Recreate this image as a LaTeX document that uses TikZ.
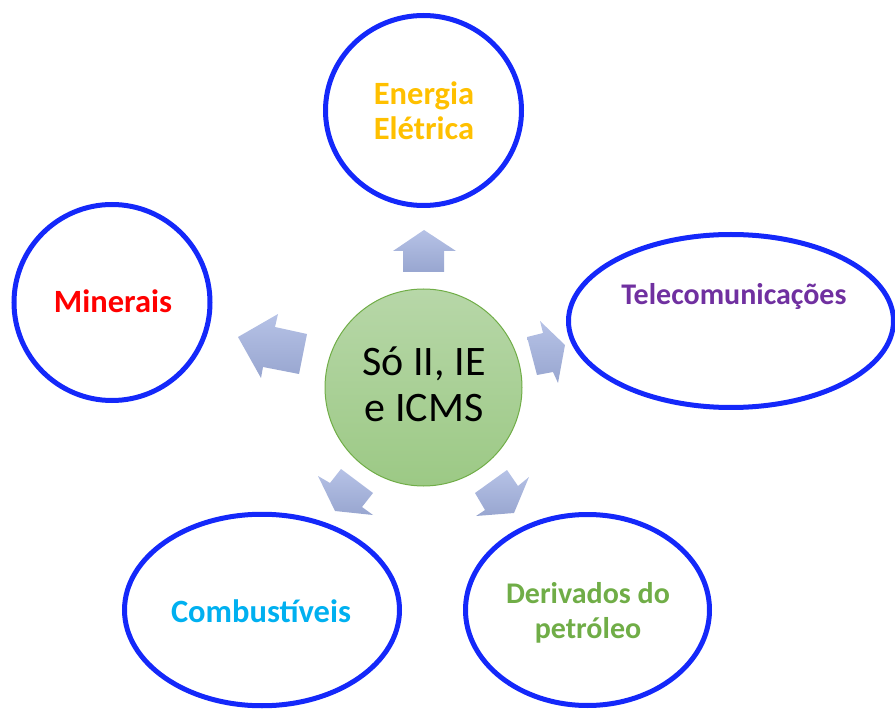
\documentclass[tikz,border=0pt]{standalone}
\usepackage{fontspec}
\setmainfont{Carlito}
\usetikzlibrary{shapes.geometric}
\definecolor{ringblue}{RGB}{20,40,250}
\definecolor{ctop}{RGB}{183,215,168}
\definecolor{cbot}{RGB}{156,201,133}
\definecolor{cgreen}{RGB}{112,173,71}
\definecolor{arrtop}{RGB}{182,194,230}
\definecolor{arrbot}{RGB}{152,166,208}
\definecolor{torange}{RGB}{255,192,0}
\definecolor{tred}{RGB}{255,0,0}
\definecolor{tpurple}{RGB}{112,48,160}
\definecolor{tcyan}{RGB}{0,176,240}
\definecolor{tgreen}{RGB}{112,173,71}
\begin{document}
\begin{tikzpicture}[x=1pt,y=-1pt,
  ring/.style={ellipse, draw=ringblue, line width=5pt, inner sep=0pt},
  lbl/.style={font=\bfseries\fontsize{30}{35}\selectfont, align=center, inner sep=0pt},
  biglbl/.style={font=\bfseries\fontsize{32.5}{35}\selectfont, align=center, inner sep=0pt},
  blockarrow/.style={top color=arrtop, bottom color=arrbot, draw=none}]
\useasboundingbox (0,0) rectangle (895,711);
% arrows
\path[blockarrow] (403,272) -- (403,251) -- (393,251) -- (424,230) -- (456,251) -- (444,251) -- (444,272) -- cycle;
\path[blockarrow] (238,337) -- (278,314) -- (275,327) -- (307,334) -- (299,374) -- (263,367) -- (261,378) -- cycle;
\path[blockarrow] (540,321) -- (543,333) -- (527,337) -- (537,375) -- (553,372) -- (558,383) -- (565,345) -- cycle;
\path[blockarrow] (318,476) -- (330,483) -- (341,469) -- (373,493) -- (362,507) -- (373,515) -- (335,511) -- cycle;
\path[blockarrow] (475,493) -- (507,470) -- (518,486) -- (529,477) -- (514,513) -- (476,516) -- (485,510) -- cycle;
% rings
\node[ring, minimum width=196pt, minimum height=190pt] (ee) at (423.5,110.5) {};
\node[ring, minimum width=196pt, minimum height=196pt] (min) at (112,302.5) {};
\node[ring, minimum width=325pt, minimum height=173pt] (tel) at (731,321) {};
\node[ring, minimum width=275pt, minimum height=191.5pt] (comb) at (262,610) {};
\node[ring, minimum width=244pt, minimum height=191pt] (der) at (587.5,610) {};
% hub
\node[circle, draw=cgreen, line width=1pt, top color=ctop, bottom color=cbot, minimum size=197pt, inner sep=0pt] (hub) at (423.5,387.5) {};
\node[font=\fontsize{42}{46}\selectfont, align=center, inner sep=0pt] (hubtxt) at (424,384.5) {Só II, IE\\e ICMS};
% labels
\node[biglbl, text=torange] (eetxt) at (424,110.5) {Energia\\Elétrica};
\node[biglbl, text=tred, anchor=base] (mintxt) at (113,313) {Minerais};
\node[lbl, text=tpurple, anchor=base] (teltxt) at (734,305) {Telecomunicações};
\node[biglbl, text=tcyan] (combtxt) at (261,611) {Combustíveis};
\node[lbl, text=tgreen] (dertxt) at (588,613) {Derivados do\\petróleo};
\end{tikzpicture}
\end{document}
